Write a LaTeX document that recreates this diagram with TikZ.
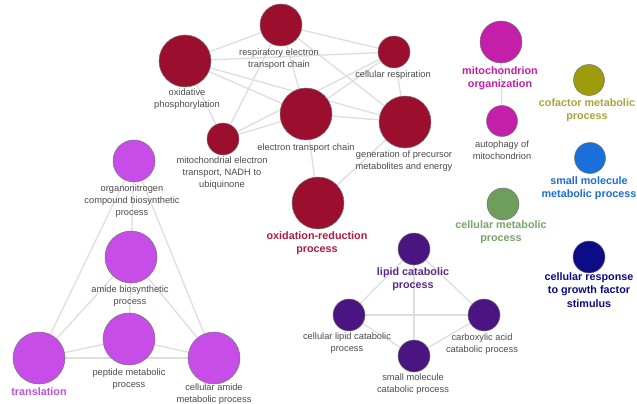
\documentclass[tikz,border=0pt]{standalone}
\usepackage{fontspec}
\setmainfont{Liberation Sans}
\usetikzlibrary{backgrounds}

\definecolor{rojo}{HTML}{9B0E2E}
\definecolor{rojotxt}{HTML}{B01C40}
\definecolor{magenta}{HTML}{C41FA8}
\definecolor{oliva}{HTML}{9E9B0C}
\definecolor{olivatxt}{HTML}{A9A53C}
\definecolor{azul}{HTML}{1A6FD9}
\definecolor{verde}{HTML}{6F9E5C}
\definecolor{verdetxt}{HTML}{79A46A}
\definecolor{marino}{HTML}{0C0C86}
\definecolor{morado}{HTML}{4A1580}
\definecolor{moradotxt}{HTML}{5A2A8E}
\definecolor{lila}{HTML}{C84DE8}
\definecolor{lilatxt}{HTML}{C050E0}

\tikzset{
  termino/.style={circle, draw=black!55, line width=0.5pt, inner sep=0pt, minimum size=#1},
  rotulo/.style={font=\fontsize{9.3}{12}\selectfont, text=black!70, align=center, inner sep=0pt},
  grupo/.style={font=\fontsize{10.8}{13.5}\selectfont\bfseries, align=center, inner sep=0pt},
  enlace/.style={draw=black!13, line width=1.3pt}
}

\begin{document}
\begin{tikzpicture}[x=1pt, y=-1pt]
\useasboundingbox (0,0) rectangle (637,404);

% Cadena respiratoria
\node[termino=42pt, fill=rojo] (rec) at (281,25) {};
\node[termino=52pt, fill=rojo] (oxp) at (185,61) {};
\node[termino=32pt, fill=rojo] (cr) at (394,52) {};
\node[termino=52pt, fill=rojo] (etc) at (306,114) {};
\node[termino=52pt, fill=rojo] (gen) at (405,122) {};
\node[termino=32pt, fill=rojo] (mito) at (223,139) {};
\node[termino=52pt, fill=rojo] (oxr) at (318,203) {};

\node[rotulo] (rec-t) at (279,59) {respiratory electron\\transport chain};
\node[rotulo] (oxp-t) at (187,99) {oxidative\\phosphorylation};
\node[rotulo] (cr-t) at (393,75) {cellular respiration};
\node[rotulo] (etc-t) at (306,148) {electron transport chain};
\node[rotulo] (gen-t) at (404,161) {generation of precursor\\metabolites and energy};
\node[rotulo] (mito-t) at (222,173) {mitochondrial electron\\transport, NADH to\\ubiquinone};
\node[grupo, text=rojotxt] (oxr-t) at (317,243) {oxidation-reduction\\process};

% Mitocondria
\node[termino=42pt, fill=magenta] (mo) at (501,42) {};
\node[termino=31pt, fill=magenta] (au) at (502,121) {};
\node[grupo, text=magenta] (mo-t) at (500,78) {mitochondrion\\organization};
\node[rotulo] (au-t) at (502,150) {autophagy of\\mitochondrion};

% Terminos sueltos
\node[termino=31pt, fill=oliva] (cof) at (589,80) {};
\node[termino=31pt, fill=azul] (smm) at (590,158) {};
\node[termino=32pt, fill=verde] (cmp) at (503,204) {};
\node[termino=32pt, fill=marino] (crg) at (589,257) {};
\node[grupo, text=olivatxt] (cof-t) at (587,110) {cofactor metabolic\\process};
\node[grupo, text=azul] (smm-t) at (589,188) {small molecule\\metabolic process};
\node[grupo, text=verdetxt] (cmp-t) at (501,232) {cellular metabolic\\process};
\node[grupo, text=marino] (crg-t) at (589,290) {cellular response\\to growth factor\\stimulus};

% Catabolismo de lipidos
\node[termino=32pt, fill=morado] (lcp) at (414,249) {};
\node[termino=32pt, fill=morado] (clc) at (349,315) {};
\node[termino=32pt, fill=morado] (cac) at (484,315) {};
\node[termino=32pt, fill=morado] (smc) at (414,356) {};
\node[grupo, text=moradotxt] (lcp-t) at (413,279) {lipid catabolic\\process};
\node[rotulo] (clc-t) at (347,343) {cellular lipid catabolic\\process};
\node[rotulo] (cac-t) at (482,344) {carboxylic acid\\catabolic process};
\node[rotulo] (smc-t) at (413,384) {small molecule\\catabolic process};

% Traduccion
\node[termino=42pt, fill=lila] (onc) at (134,161) {};
\node[termino=52pt, fill=lila] (abp) at (131,257) {};
\node[termino=52pt, fill=lila] (pep) at (129,339) {};
\node[termino=52pt, fill=lila] (tr) at (39,358) {};
\node[termino=52pt, fill=lila] (cam) at (214,358) {};
\node[rotulo] (onc-t) at (132,201) {organonitrogen\\compound biosynthetic\\process};
\node[rotulo] (abp-t) at (130,296) {amide biosynthetic\\process};
\node[rotulo] (pep-t) at (129,379) {peptide metabolic\\process};
\node[grupo, text=lilatxt] (tr-t) at (39,392) {translation};
\node[rotulo] (cam-t) at (214,394) {cellular amide\\metabolic process};

% Enlaces
\begin{pgfonlayer}{background}
\fill[white] (0,0) rectangle (637,404);
\foreach \a/\b in {oxp/rec, oxp/cr, oxp/etc, oxp/gen, oxp/mito, rec/cr, rec/etc, rec/gen,
                   rec/mito, cr/etc, cr/gen, cr/mito, etc/gen, etc/mito, etc/oxr, gen/oxr, mo/au,
                   lcp/clc, lcp/cac, lcp/smc, clc/cac, clc/smc, cac/smc,
                   onc/abp, onc/tr, onc/cam, abp/pep, abp/tr, abp/cam, pep/tr, pep/cam, tr/cam}
  \draw[enlace] (\a) -- (\b);
\end{pgfonlayer}
\end{tikzpicture}
\end{document}
